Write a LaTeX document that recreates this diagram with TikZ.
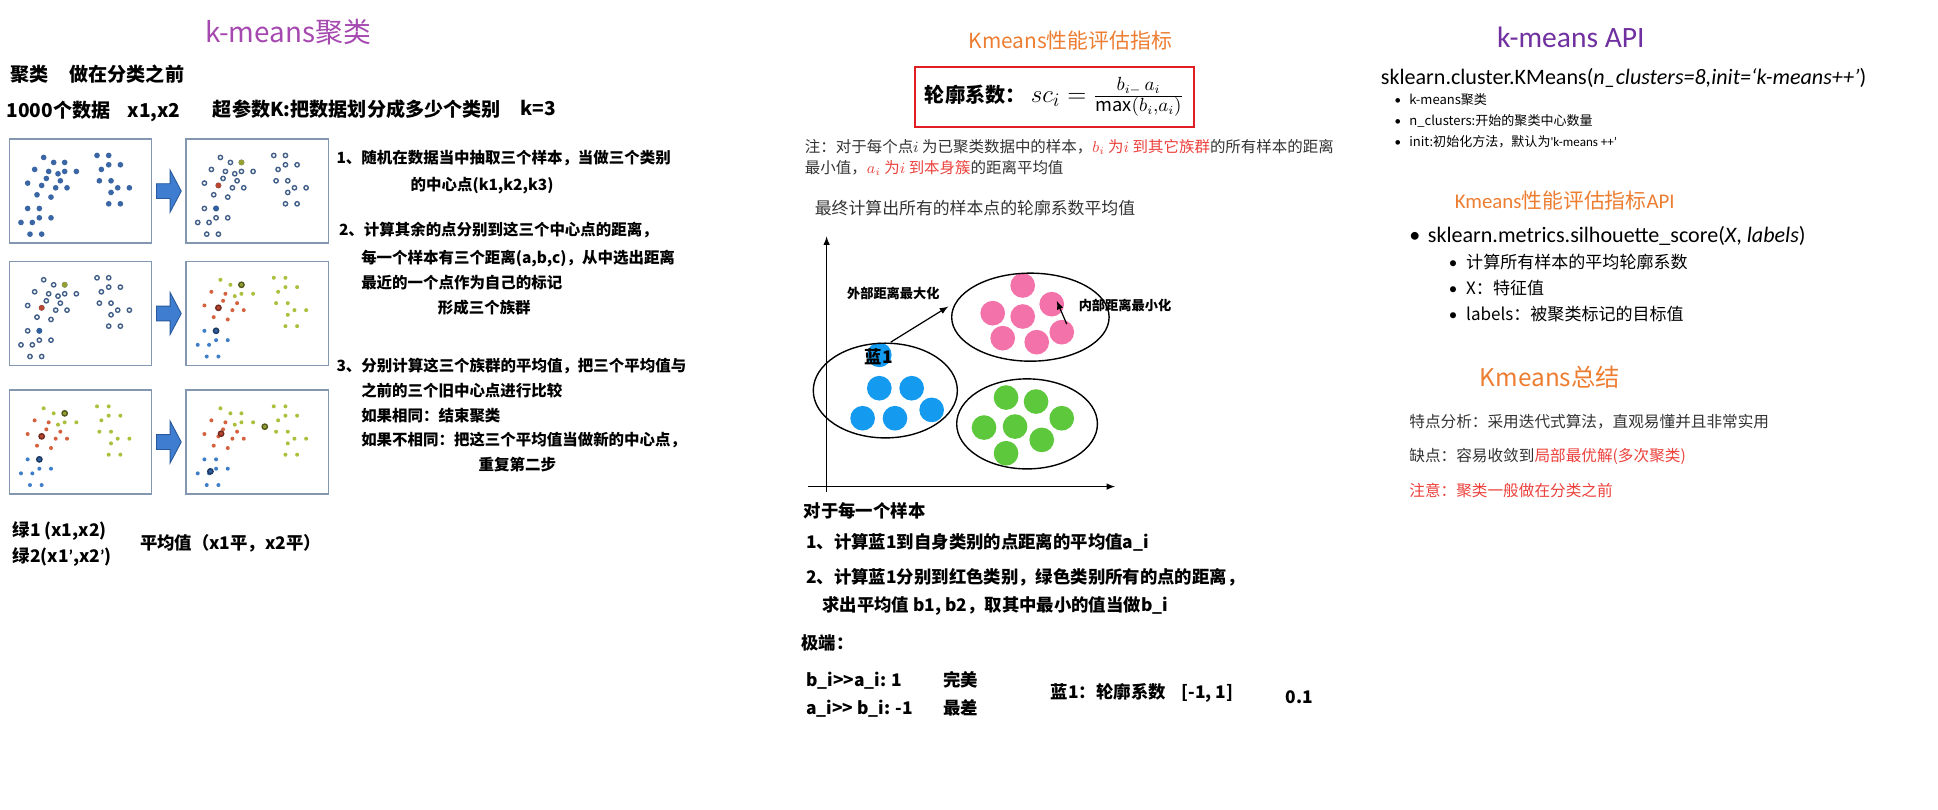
\documentclass[tikz,border=0pt]{standalone}
\usepackage{fontspec}
\setmainfont{Noto Sans CJK SC}
\newfontfamily\lat{Carlito}
\usetikzlibrary{arrows}
\usetikzlibrary{calc}
\definecolor{ttlpurple}{RGB}{165,72,175}
\definecolor{apipurple}{RGB}{112,48,160}
\definecolor{korange}{RGB}{237,125,49}
\definecolor{nred}{RGB}{235,65,60}
\definecolor{boxred}{RGB}{225,30,35}
\definecolor{pnlgray}{RGB}{132,151,176}
\definecolor{dotblue}{RGB}{58,102,165}
\definecolor{ringblue}{RGB}{65,95,135}
\definecolor{kgreen}{RGB}{172,192,62}
\definecolor{kgreenc}{RGB}{150,160,50}
\definecolor{kred}{RGB}{212,98,62}
\definecolor{kredc}{RGB}{185,70,48}
\definecolor{kblue}{RGB}{62,125,200}
\definecolor{kbluec}{RGB}{48,95,160}
\definecolor{arrblue}{RGB}{62,125,208}
\definecolor{arrline}{RGB}{40,90,155}
\definecolor{cblue}{RGB}{20,155,240}
\definecolor{cpink}{RGB}{244,114,170}
\definecolor{cgreen}{RGB}{93,200,60}

\newcommand{\fsz}[1]{\fontsize{#1}{#1}\selectfont}
\newcommand{\bul}[1]{\makebox[#1][l]{\lat •}}

% sample points of the scatter panels (panel units, origin top left)
\def\grnpts{105/57,135/72,148/106,168/99,203/99,265/51,300/51,300/79,335/79,278/93,272/127,307/127,327/148,362/148,307/162,300/196,335/196,168/72}
\def\redpts{78/93,120/99,113/120,155/127,57/134,141/148,175/148,85/169,127/176,99/141}
\def\blupts{57/210,92/238,127/238,37/252,71/252,64/287,99/287,92/210}
\edef\allpts{\grnpts,\redpts,\blupts}

\newcommand{\dotsfilled}[1]{%
  \begin{scope}[shift={(#1.north west)}, x=0.00674cm, y=-0.00674cm]
    \foreach \u/\v in \allpts {\fill[dotblue] (\u,\v) circle[radius=8.5];}
  \end{scope}}

\newcommand{\dotshollow}[1]{%
  \begin{scope}[shift={(#1.north west)}, x=0.00674cm, y=-0.00674cm]
    \foreach \u/\v in \allpts {\draw[ringblue, fill=white, line width=0.8pt] (\u,\v) circle[radius=6.5];}
    \fill[kgreenc] (168,72) circle[radius=8.5];
    \fill[kredc] (99,141) circle[radius=8.5];
    \fill[kbluec] (92,210) circle[radius=8.5];
  \end{scope}}

% #1 panel, #2 #3 #4 green, red and blue centres
\newcommand{\dotscolour}[4]{%
  \begin{scope}[shift={(#1.north west)}, x=0.00674cm, y=-0.00674cm]
    \foreach \u/\v in \grnpts {\fill[kgreen] (\u,\v) circle[radius=6];}
    \foreach \u/\v in \redpts {\fill[kred] (\u,\v) circle[radius=6];}
    \foreach \u/\v in \blupts {\fill[kblue] (\u,\v) circle[radius=6];}
    \filldraw[fill=kgreenc, draw=kgreenc!55!black, line width=0.8pt] (#2) circle[radius=8];
    \filldraw[fill=kredc, draw=kredc!60!black, line width=0.8pt] (#3) circle[radius=8];
    \filldraw[fill=kbluec, draw=kbluec!60!black, line width=0.8pt] (#4) circle[radius=8];
  \end{scope}}

\newcommand{\blockarrow}[1]{%
  \filldraw[fill=arrblue, draw=arrline, line width=0.5pt]
    ($(#1)+(-10,-6)$) -- ++(11,0) -- ++(0,-11) -- ++(9,17) -- ++(-9,17)
    -- ++(0,-11) -- ++(-11,0) -- cycle;}

\begin{document}
\begin{tikzpicture}[x=0.025cm, y=-0.025cm, >=latex,
  txt/.style={anchor=west, inner sep=0pt},
  ttl/.style={inner sep=0pt, font=\fsz{16}},
  hd/.style={txt, font=\bfseries\fsz{11}},
  stp/.style={txt, font=\bfseries\fsz{8.9}},
  mid/.style={txt, font=\bfseries\fsz{10}},
  note/.style={txt, font=\fsz{8.9}, text=black!80},
  api/.style={txt, font=\lat\fsz{12.7}},
  sml/.style={txt, font=\fsz{7.5}},
  sub/.style={txt, font=\fsz{9.8}},
  summ/.style={txt, font=\fsz{9}, text=black!80},
  lbl/.style={inner sep=0pt, font=\bfseries\fsz{7.6}},
  pnl/.style={draw=pnlgray, line width=0.9pt, fill=white, minimum width=2.875cm,
    minimum height=2.1cm, anchor=north west, inner sep=0pt}]

\useasboundingbox (0,0) rectangle (1568,655);

%====================================================
% LEFT: k-means clustering steps
%====================================================
\node[ttl, text=ttlpurple] (kmt) at (233,26) {k-means聚类};
\node[hd] (pre) at (8,60) {聚类\hspace{1.1em}做在分类之前};
\node[hd] (num) at (5,90) {1000个数据\hspace{0.9em}x1,x2};
\node[hd] (hyp) at (172,88) {超参数K:把数据划分成多少个类别};
\node[hd] (kval) at (421,87) {k=3};

% Scatter panels
\node[pnl] (p11) at (7,112) {};
\node[pnl] (p12) at (150,112) {};
\node[pnl] (p21) at (7,211) {};
\node[pnl] (p22) at (150,211) {};
\node[pnl] (p31) at (7,315) {};
\node[pnl] (p32) at (150,315) {};

\dotsfilled{p11}
\dotshollow{p12}
\dotshollow{p21}
\dotscolour{p22}{168,72}{99,141}{92,210}
\dotscolour{p31}{168,72}{99,141}{92,210}
\dotscolour{p32}{238,112}{107,133}{75,246}

% Block arrows between panels
\path (p11.east) -- (p12.west) coordinate[midway] (a1);
\path (p21.east) -- (p22.west) coordinate[midway] (a2);
\path (p31.east) -- (p32.west) coordinate[midway] (a3);
\blockarrow{a1}
\blockarrow{a2}
\blockarrow{a3}

% Steps
\node[stp] (s1a) at (272,128) {1、随机在数据当中抽取三个样本，当做三个类别};
\node[stp] (s1b) at (332,150) {的中心点(k1,k2,k3)};
\node[stp] (s2a) at (274,186) {2、计算其余的点分别到这三个中心点的距离，};
\node[stp] (s2b) at (292,209) {每一个样本有三个距离(a,b,c)，从中选出距离};
\node[stp] (s2c) at (292,229) {最近的一个点作为自己的标记};
\node[stp] (s2d) at (354,249) {形成三个族群};
\node[stp] (s3a) at (272,296) {3、分别计算这三个族群的平均值，把三个平均值与};
\node[stp] (s3b) at (292,316) {之前的三个旧中心点进行比较};
\node[stp] (s3c) at (292,336) {如果相同：结束聚类};
\node[stp] (s3d) at (292,356) {如果不相同：把这三个平均值当做新的中心点，};
\node[stp] (s3e) at (387,376) {重复第二步};

\node[mid] (g1) at (10,430) {绿1 (x1,x2)};
\node[mid] (g2) at (10,451) {绿2(x1{\lat ’},x2{\lat ’})};
\node[mid] (avg) at (113,440) {平均值（x1平，x2平）};

%====================================================
% MIDDLE: silhouette coefficient
%====================================================
\node[ttl, text=korange, font=\fsz{12}] (pft) at (866,33) {Kmeans性能评估指标};
\node[draw=boxred, line width=1.1pt, minimum width=5.65cm, minimum height=1.225cm,
  inner sep=0pt] (sbox) at (853,78.5)
  {\bfseries\fsz{11.6}轮廓系数：\hspace{3pt}\fsz{15}$sc_i = \frac{b_{i-}\,a_i}{\max(b_i,a_i)}$};

\node[note] (n1) at (651,119) {注：对于每个点$i$ 为已聚类数据中的样本，\textcolor{nred}{$b_i$ 为$i$ 到其它族群}的所有样本的距离};
\node[note] (n2) at (651,136) {最小值，\textcolor{nred}{$a_i$ 为$i$ 到本身簇}的距离平均值};
\node[note, font=\fsz{9.7}] (fin) at (659,168) {最终计算出所有的样本点的轮廓系数平均值};

% Cluster sketch
\begin{scope}[shift={(668.8,393.7)}, x=0.006742cm, y=-0.006742cm]
  % Axes
  \draw[->, line width=0.7pt] (0,15) -- (0,-750);
  \draw[->, line width=0.7pt] (-55,0) -- (865,0);

  % Clusters
  \foreach \u/\v in {158/-395,158/-295,255/-295,315/-230,108/-205,205/-205}
    \fill[cblue] (\u,\v) circle[radius=37];
  \foreach \u/\v in {588/-603,498/-520,588/-510,675/-547,528/-445,630/-433,705/-463}
    \fill[cpink] (\u,\v) circle[radius=37];
  \foreach \u/\v in {538/-267,628/-255,705/-205,472/-177,565/-180,645/-140,538/-100}
    \fill[cgreen] (\u,\v) circle[radius=37];

  \draw[line width=0.8pt] (176,-288) ellipse [x radius=216, y radius=142];
  \draw[line width=0.8pt] (611,-508) ellipse [x radius=236, y radius=132];
  \draw[line width=0.8pt] (601,-188) ellipse [x radius=211, y radius=135];

  \node[lbl, font=\bfseries\fsz{10}] (blue1) at (156,-390) {蓝1};
  \node[lbl] (outer) at (200,-580) {外部距离最大化};
  \node[lbl, anchor=west] (inner) at (755,-543) {内部距离最小化};

  \coordinate (outS) at (192,-433);
  \coordinate (outE) at (365,-540);
  \coordinate (inS) at (720,-487);
  \coordinate (inE) at (690,-557);
  \draw[->, line width=0.7pt] (outS) -- (outE);
  \draw[->, line width=0.7pt] (inS) -- (inE);
\end{scope}

\node[mid] (m0) at (650,413) {对于每一个样本};
\node[mid] (m1) at (652,439) {1、计算蓝1到自身类别的点距离的平均值a\_i};
\node[mid] (m2) at (652,467) {2、计算蓝1分别到红色类别，绿色类别所有的点的距离，};
\node[mid] (m3) at (665,490) {求出平均值 b1, b2，取其中最小的值当做b\_i};
\node[mid] (ext) at (648,520) {极端：};
\node[mid] (e1) at (652,551) {b\_i>{}>a\_i: 1};
\node[mid] (e1t) at (763,550) {完美};
\node[mid] (e2) at (652,573) {a\_i>{}> b\_i: -1};
\node[mid] (e2t) at (763,573) {最差};
\node[mid] (rng) at (850,561) {蓝1：轮廓系数\hspace{0.9em}[-1, 1]};
\node[mid] (val) at (1040,564) {0.1};

%====================================================
% RIGHT: API and summary
%====================================================
\node[ttl, text=apipurple, font=\lat\fsz{17}] (apit) at (1271,30) {k-means API};
\node[api] (kmapi) at (1117,63) {sklearn.cluster.KMeans(\textit{n\_clusters=8,init=‘k-means++’})};
\node[sml] (b1) at (1128,81) {\bul{0.3cm}k-means聚类};
\node[sml] (b2) at (1128,98) {\bul{0.3cm}n\_clusters:开始的聚类中心数量};
\node[sml] (b3) at (1128,115) {\bul{0.3cm}init:初始化方法，默认为{\lat 'k-means ++’}};

\node[ttl, text=korange, font=\fsz{12}] (pfa) at (1266,162) {{\lat Kmeans}性能评估指标{\lat API}};
\node[api] (silh) at (1140,191) {\bul{0.375cm}sklearn.metrics.silhouette\_score(\textit{X}, \textit{labels})};
\node[sub] (c1) at (1172,212) {\bul{0.35cm}计算所有样本的平均轮廓系数};
\node[sub] (c2) at (1172,233) {\bul{0.35cm}X：特征值};
\node[sub] (c3) at (1172,254) {\bul{0.35cm}labels：被聚类标记的目标值};

\node[ttl, text=korange, font=\fsz{14}] (sumt) at (1254,305) {Kmeans总结};
\node[summ] (f1) at (1140,341) {特点分析：采用迭代式算法，直观易懂并且非常实用};
\node[summ] (f2) at (1140,369) {缺点：容易收敛到\textcolor{nred}{局部最优解(多次聚类)}};
\node[summ, text=nred] (f3) at (1140,397) {注意：聚类一般做在分类之前};

\end{tikzpicture}
\end{document}
